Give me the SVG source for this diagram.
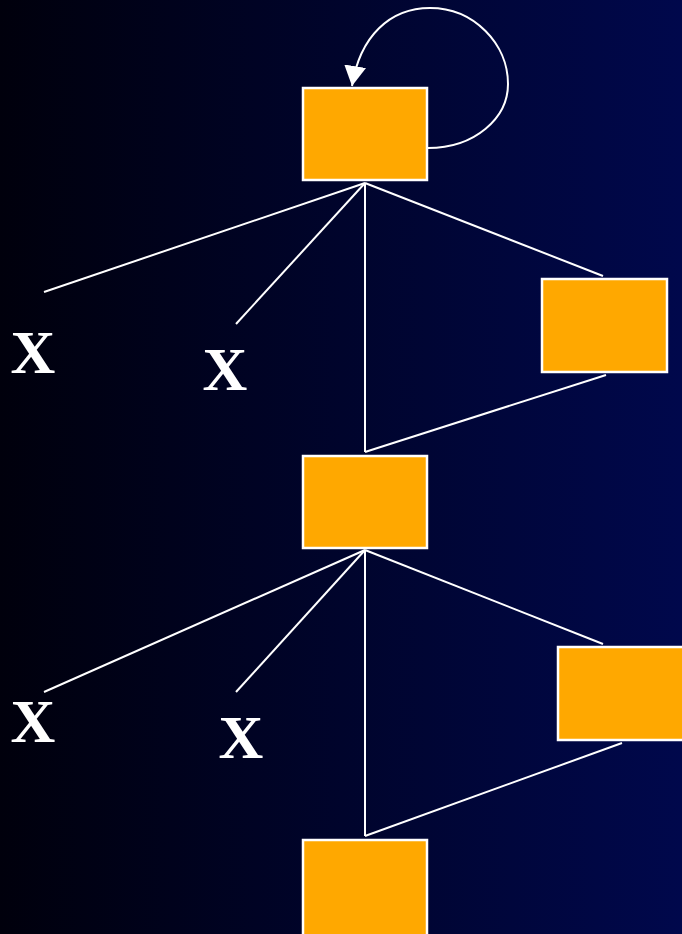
<svg xmlns="http://www.w3.org/2000/svg" width="682" height="934" viewBox="0 0 682 934">
<defs>
<linearGradient id="bg" x1="0" y1="0" x2="1" y2="0">
<stop offset="0" stop-color="#00000c"/>
<stop offset="1" stop-color="#00084c"/>
</linearGradient>
<marker id="arr" viewBox="0 0 20 22" refX="20" refY="11" markerWidth="20" markerHeight="22" markerUnits="userSpaceOnUse" orient="auto">
<path d="M0,0 L20,11 L0,22 Z" fill="#ffffff"/>
</marker>
<style>
.node rect{fill:#ffa800;stroke:#ffffff;stroke-width:2.5}
.edge{stroke:#ffffff;stroke-width:2;fill:none}
.lbl{font-family:"Liberation Serif","Times New Roman",serif;font-size:62px;font-weight:bold;fill:#ffffff;text-anchor:middle}
</style>
</defs>
<rect x="0" y="0" width="682" height="934" fill="url(#bg)"/>
<g id="connectors">
<path class="edge" d="M365,183 L44,292"/>
<path class="edge" d="M365,183 L236,324"/>
<path class="edge" d="M365,183 L365,452"/>
<path class="edge" d="M365,183 L603,276"/>
<path class="edge" d="M606,375 L365,452"/>
<path class="edge" d="M365,550 L44,692"/>
<path class="edge" d="M365,550 L236,692"/>
<path class="edge" d="M365,550 L365,836"/>
<path class="edge" d="M365,550 L603,644"/>
<path class="edge" d="M622,743 L365,836"/>
<path class="edge" d="M428,148 C475,148 508,118 508,84 C508,44 474,8 430,8 C390,8 360,36 352,86" marker-end="url(#arr)"/>
</g>
<g id="n1" class="node"><rect x="303" y="88" width="124" height="92"/></g>
<g id="n2" class="node"><rect x="542" y="279" width="125" height="93"/></g>
<g id="n3" class="node"><rect x="303" y="456" width="124" height="92"/></g>
<g id="n4" class="node"><rect x="558" y="647" width="130" height="93"/></g>
<g id="n5" class="node"><rect x="303" y="840" width="124" height="100"/></g>
<g id="x1"><text class="lbl" x="33" y="373">X</text></g>
<g id="x2"><text class="lbl" x="225" y="390">X</text></g>
<g id="x3"><text class="lbl" x="33" y="742">X</text></g>
<g id="x4"><text class="lbl" x="241" y="758">X</text></g>
</svg>
